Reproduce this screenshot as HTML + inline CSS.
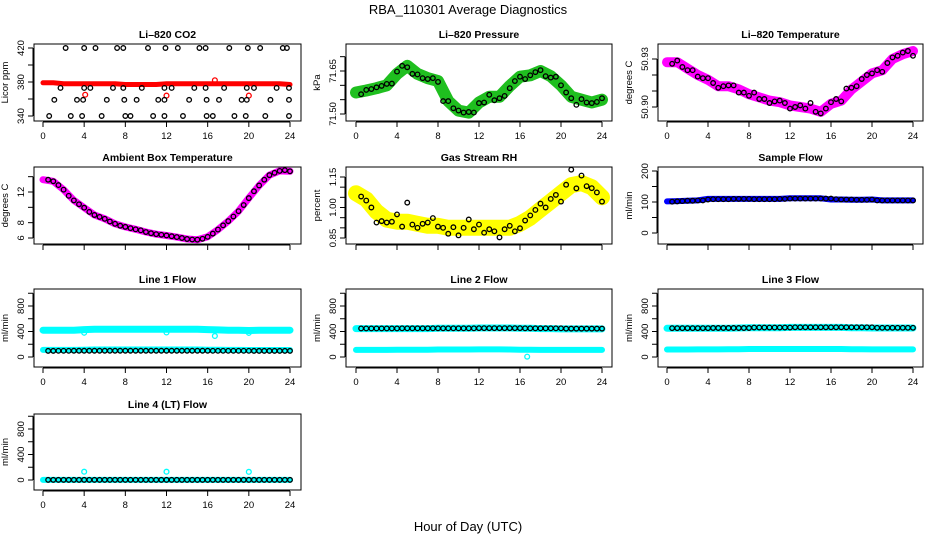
<!DOCTYPE html>
<html><head><meta charset="utf-8">
<style>
body{margin:0;background:#fff;}
svg{display:block;font-family:"Liberation Sans",sans-serif;}
</style></head>
<body>
<svg id="chart" width="936" height="540" viewBox="0 0 936 540" xmlns="http://www.w3.org/2000/svg">
<rect width="936" height="540" fill="#fff"/>
<text x="468" y="14" text-anchor="middle" font-size="13">RBA_110301  Average Diagnostics</text>
<text x="468" y="531" text-anchor="middle" font-size="13">Hour of Day (UTC)</text>
</svg>
<script>
const HALF=[0.5,1,1.5,2,2.5,3,3.5,4,4.5,5,5.5,6,6.5,7,7.5,8,8.5,9,9.5,10,10.5,11,11.5,12,12.5,13,13.5,14,14.5,15,15.5,16,16.5,17,17.5,18,18.5,19,19.5,20,20.5,21,21.5,22,22.5,23,23.5,24];
const HOURS=[0,1,2,3,4,5,6,7,8,9,10,11,12,13,14,15,16,17,18,19,20,21,22,23,24];
const X_TICKS=[0,4,8,12,16,20,24];

// CO2
const co2T=[2.2,4.0,5.1,7.2,7.8,10.2,11.9,13.1,15.2,15.8,18.1,19.9,21.1,23.3,23.7, 1.7,4.0,4.6,6.8,7.8,9.6,11.8,12.5,14.7,15.8,17.6,19.8,20.5,22.7,23.9, 1.1,3.3,3.9,6.2,7.9,9.1,11.2,11.8,14.2,15.9,17.1,19.3,19.8,22.1,23.9, 0.6,2.7,3.8,5.7,8.0,8.5,10.7,11.8,13.6,15.9,16.5,18.6,19.7,21.6,23.9];
const co2V=[420,420,420,420,420,420,420,420,420,420,420,420,420,420,420, 373,373,373,373,373,373,373,373,373,373,373,373,373,373,373, 359,359,359,359,359,359,359,359,359,359,359,359,359,359,359, 340,340,340,340,340,340,340,340,340,340,340,340,340,340,340];
const co2Band=[379,379,378,378,378,378,378,378,377,377,377,377,378,378,378,378,378,378,378,378,378,378,378,378,377];
const co2OutT=[4.1,12.0,16.7,20.0];
const co2OutV=[365,364,382,364];

// Pressure
const presBand=[71.575,71.582,71.590,71.600,71.640,71.668,71.640,71.625,71.615,71.545,71.512,71.505,71.540,71.560,71.560,71.598,71.630,71.635,71.650,71.632,71.600,71.560,71.550,71.540,71.550];
const presV=[71.569,71.584,71.587,71.593,71.598,71.605,71.606,71.648,71.668,71.663,71.640,71.638,71.625,71.622,71.625,71.612,71.545,71.545,71.520,71.512,71.505,71.507,71.505,71.538,71.540,71.567,71.548,71.555,71.563,71.590,71.615,71.630,71.622,71.635,71.646,71.653,71.632,71.627,71.630,71.600,71.575,71.555,71.532,71.552,71.540,71.538,71.542,71.555];

// Li-820 temperature
const tempBand=[50.928,50.928,50.924,50.920,50.917,50.913,50.913,50.911,50.908,50.906,50.904,50.903,50.901,50.900,50.899,50.897,50.902,50.904,50.911,50.916,50.921,50.923,50.930,50.933,50.935];
const tempV=[50.927,50.929,50.925,50.923,50.923,50.919,50.918,50.918,50.915,50.912,50.913,50.9135,50.9135,50.909,50.909,50.907,50.909,50.905,50.905,50.9025,50.9035,50.904,50.9025,50.899,50.900,50.901,50.899,50.9025,50.897,50.896,50.899,50.903,50.905,50.9035,50.9115,50.912,50.913,50.9175,50.920,50.921,50.923,50.922,50.9275,50.931,50.932,50.934,50.935,50.932];

// Ambient box temperature
const ambBand=[13.6,13.4,12.3,10.9,9.95,9.0,8.5,7.85,7.45,7.13,6.78,6.5,6.33,6.12,5.87,5.78,6.15,7.1,8.2,9.5,11.2,12.85,14.2,14.75,14.7];
const ambV=[13.6,13.4,12.9,12.3,11.5,10.9,10.4,9.95,9.4,9.0,8.75,8.5,8.15,7.85,7.6,7.45,7.28,7.13,7.0,6.78,6.62,6.5,6.42,6.33,6.23,6.12,6.0,5.87,5.8,5.78,5.9,6.15,6.57,7.1,7.65,8.2,8.8,9.5,10.3,11.2,12.1,12.85,13.6,14.2,14.5,14.75,14.85,14.7];

// Gas stream RH
const rhBand=[1.07,1.04,0.98,0.94,0.93,0.93,0.92,0.91,0.91,0.90,0.90,0.90,0.90,0.90,0.90,0.90,0.92,0.95,0.99,1.03,1.07,1.11,1.12,1.10,1.05];
const rhV=[1.054,1.034,1.0,0.926,0.933,0.926,0.93,0.966,0.906,1.024,0.916,0.90,0.92,0.926,0.948,0.906,0.90,0.871,0.903,0.863,0.90,0.941,0.893,0.916,0.876,0.893,0.883,0.853,0.893,0.91,0.883,0.898,0.936,0.961,0.988,1.019,1.0,1.042,1.062,1.029,1.112,1.186,1.094,1.157,1.105,1.095,1.074,1.029];

// Sample flow
const sfBand=[102,103,104,105,110,110,110,110,110,110,110,110,112,112,112,112,108,108,107,107,108,105,105,105,105];
const sfV=[101,102,103,104,104,105,105,108,109,109,109,109,110,110,110,110,109,109,109,109,109,110,110,111,111,111,111,111,111,111,111,111,109,108,108,108,107,107,107,108,105,105,105,105,105,105,105,105];

// Line flows
const l1Hi=[420,420,420,420,430,435,435,435,435,435,435,435,435,435,435,435,430,425,420,420,415,420,420,420,420];
const l1Lo=[112,112,112,112,115,118,118,118,118,118,118,118,118,118,118,118,115,115,112,112,110,110,110,110,110];
const l1V=[96,96,97,97,97,98,98,98,98,98,98,98,98,98,98,98,98,98,98,98,98,98,98,98,98,98,98,98,98,98,98,98,97,97,97,97,97,97,97,97,96,96,96,96,96,96,96,96];
const l1OutT=[4.0,12.0,16.7,20.0];
const l1OutV=[380,385,330,378];

const l2Hi=[445,445,445,445,445,445,445,445,450,450,450,450,455,455,455,455,450,450,445,445,440,440,440,440,440];
const l2Lo=[112,112,112,112,115,115,115,115,118,118,118,118,120,120,120,118,115,115,112,112,112,112,112,112,112];
const l2V=[448,448,448,448,448,448,448,448,450,450,450,450,450,450,450,450,450,450,450,450,450,450,450,452,452,452,452,452,452,452,452,452,450,450,450,450,450,450,450,450,445,445,445,445,445,445,445,445];
const l2OutT=[16.7];
const l2OutV=[5];

const l3Hi=[450,450,450,450,450,450,450,455,460,460,460,460,465,465,465,465,465,465,460,460,455,455,455,455,455];
const l3Lo=[118,118,118,120,120,120,122,122,125,125,125,125,125,125,125,125,125,125,122,122,120,120,120,120,120];
const l3V=[452,452,452,452,452,452,452,452,455,455,455,455,455,455,455,455,462,462,462,462,462,462,462,462,466,466,466,466,466,466,466,466,466,466,466,466,466,466,466,466,458,458,458,458,458,458,458,458];

const l4Band=[2,2,2,2,2,2,2,2,2,2,2,2,2,2,2,2,2,2,2,2,2,2,2,2,2];
const l4V=[2,2,2,2,2,2,2,2,2,2,2,2,2,2,2,2,2,2,2,2,2,2,2,2,2,2,2,2,2,2,2,2,2,2,2,2,2,2,2,2,2,2,2,2,2,2,2,2];
const l4OutT=[4.0,12.0,20.0];
const l4OutV=[130,130,128];

const NS="http://www.w3.org/2000/svg";
const svg=document.getElementById('chart');
const COLS=[{bx0:34,bx1:301,t0:43,t1:290},{bx0:346,bx1:612,t0:356,t1:602},{bx0:658,bx1:923,t0:667,t1:913}];
const ROWS=[{by0:44,by1:121},{by0:167,by1:244},{by0:289,by1:367},{by0:414,by1:490}];
function mk(tag,attrs,parent){const e=document.createElementNS(NS,tag);for(const k in attrs)e.setAttribute(k,attrs[k]);(parent||svg).appendChild(e);return e;}

function panel(cfg){
  const C=COLS[cfg.col],R=ROWS[cfg.row];
  const g=mk('g',{});
  
  
  const xs=t=>C.t0+(C.t1-C.t0)*t/24;
  const ys=v=>cfg.yp[0]+(cfg.yp[1]-cfg.yp[0])*(v-cfg.yv[0])/(cfg.yv[1]-cfg.yv[0]);
  const ti=mk('text',{x:(C.bx0+C.bx1)/2,y:R.by0-6,'text-anchor':'middle','font-size':'10.5','font-weight':'bold'},g);
  ti.textContent=cfg.title;
  
  
  const cid='clip-'+cfg.name;
  const cp=mk('clipPath',{id:cid},g);
  mk('rect',{x:C.bx0,y:R.by0,width:C.bx1-C.bx0,height:R.by1-R.by0},cp);
  const dg=mk('g',{'clip-path':'url(#'+cid+')'},g);
  (cfg.bands||[]).forEach((b,bi)=>{
    const pts=b.v.map((v,i)=>xs(b.t[i]).toFixed(1)+','+ys(v).toFixed(1)).join(' ');
    const pl=mk('polyline',{points:pts,fill:'none',stroke:b.color,'stroke-width':b.w,'stroke-linejoin':'round','stroke-linecap':'round'},dg);
    
    
  });
  (cfg.outs||[]).forEach(o=>{
    o.v.forEach((v,i)=>{
      const c=mk('circle',{cx:xs(o.t[i]),cy:ys(v),r:2.4,fill:'none',stroke:o.color,'stroke-width':1.3},dg);
      
      
    });
  });
  if(cfg.black){
    cfg.black.v.forEach((v,i)=>{
      const c=mk('circle',{cx:xs(cfg.black.t[i]),cy:ys(v),r:2.3,fill:'none',stroke:'#000','stroke-width':1.3},dg);
      
      
    });
  }
  const bx=mk('rect',{x:C.bx0,y:R.by0,width:C.bx1-C.bx0,height:R.by1-R.by0,fill:'none',stroke:'#000','stroke-width':1},g);
  
  
  const xa=mk('g',{},g);
  
  
  mk('line',{x1:xs(0),x2:xs(24),y1:R.by1+1,y2:R.by1+1,stroke:'#000'},xa);
  X_TICKS.forEach(t=>{
    mk('line',{x1:xs(t),x2:xs(t),y1:R.by1+1,y2:R.by1+6,stroke:'#000'},xa);
    if(cfg.row!==1){
      const tx=mk('text',{x:xs(t),y:R.by1+18,'text-anchor':'middle','font-size':'9.5'},xa);
      tx.textContent=t;
    }
  });
  const ya=mk('g',{},g);
  
  
  const yt=cfg.ticks;
  mk('line',{x1:C.bx0-1,x2:C.bx0-1,y1:ys(yt[0]),y2:ys(yt[yt.length-1]),stroke:'#000'},ya);
  yt.forEach(v=>{mk('line',{x1:C.bx0-6,x2:C.bx0-1,y1:ys(v),y2:ys(v),stroke:'#000'},ya);});
  cfg.labels.forEach(v=>{
    const y=ys(v),x=C.bx0-10;
    const tx=mk('text',{x:x,y:y,'text-anchor':'middle','font-size':'9.5',transform:'rotate(-90 '+x+' '+y+')'},ya);
    tx.textContent=cfg.fmt?cfg.fmt(v):v;
  });
  const lx=C.bx0-26,ly=(R.by0+R.by1)/2;
  const yl=mk('text',{x:lx,y:ly,'text-anchor':'middle','font-size':'9.5',transform:'rotate(-90 '+lx+' '+ly+')'},g);
  yl.textContent=cfg.ylab;
  
  
}

const FLOWT=[0,200,400,600,800,1000],FLOWL=[0,400,800];
panel({name:'co2',col:0,row:0,title:'Li\u2013820 CO2',ylab:'Licor ppm',yv:[340,420],yp:[116,48],ticks:[340,360,380,400,420],labels:[340,380,420],
  bands:[{t:HOURS,v:co2Band,color:'#f00',w:5}],outs:[{t:co2OutT,v:co2OutV,color:'#f00'}],black:{t:co2T,v:co2V}});
panel({name:'pressure',col:1,row:0,title:'Li\u2013820 Pressure',ylab:'kPa',yv:[71.50,71.65],yp:[114,71],ticks:[71.50,71.55,71.60,71.65,71.70],labels:[71.50,71.65],fmt:v=>v.toFixed(2),
  bands:[{t:HOURS,v:presBand,color:'#1fbf1f',w:12}],black:{t:HALF,v:presV}});
panel({name:'li820-temperature',col:2,row:0,title:'Li\u2013820 Temperature',ylab:'degrees C',yv:[50.90,50.93],yp:[107,59],ticks:[50.90,50.91,50.92,50.93],labels:[50.90,50.93],fmt:v=>v.toFixed(2),
  bands:[{t:HOURS,v:tempBand,color:'#f0f',w:10}],black:{t:HALF,v:tempV}});
panel({name:'ambient-temperature',col:0,row:1,title:'Ambient Box Temperature',ylab:'degrees C',yv:[6,12],yp:[238,192],ticks:[6,8,10,12,14],labels:[6,8,12],
  bands:[{t:HOURS,v:ambBand,color:'#f0f',w:7}],black:{t:HALF,v:ambV}});
panel({name:'rh',col:1,row:1,title:'Gas Stream RH',ylab:'percent',yv:[0.85,1.15],yp:[238,177],ticks:[0.85,0.90,0.95,1.00,1.05,1.10,1.15],labels:[0.85,1.00,1.15],fmt:v=>v.toFixed(2),
  bands:[{t:HOURS,v:rhBand,color:'#ff0',w:16}],black:{t:HALF,v:rhV}});
panel({name:'sample-flow',col:2,row:1,title:'Sample Flow',ylab:'ml/min',yv:[0,200],yp:[233,171],ticks:[0,50,100,150,200],labels:[0,100,200],
  bands:[{t:HOURS,v:sfBand,color:'#00f',w:6}],black:{t:HALF,v:sfV}});
panel({name:'line1-flow',col:0,row:2,title:'Line 1 Flow',ylab:'ml/min',yv:[0,800],yp:[357,306],ticks:FLOWT,labels:FLOWL,
  bands:[{t:HOURS,v:l1Hi,color:'#0ff',w:7},{t:HOURS,v:l1Lo,color:'#0ff',w:6}],outs:[{t:l1OutT,v:l1OutV,color:'#0ff'}],black:{t:HALF,v:l1V}});
panel({name:'line2-flow',col:1,row:2,title:'Line 2 Flow',ylab:'ml/min',yv:[0,800],yp:[357,306],ticks:FLOWT,labels:FLOWL,
  bands:[{t:HOURS,v:l2Hi,color:'#0ff',w:7},{t:HOURS,v:l2Lo,color:'#0ff',w:6}],outs:[{t:l2OutT,v:l2OutV,color:'#0ff'}],black:{t:HALF,v:l2V}});
panel({name:'line3-flow',col:2,row:2,title:'Line 3 Flow',ylab:'ml/min',yv:[0,800],yp:[357,306],ticks:FLOWT,labels:FLOWL,
  bands:[{t:HOURS,v:l3Hi,color:'#0ff',w:7},{t:HOURS,v:l3Lo,color:'#0ff',w:6}],black:{t:HALF,v:l3V}});
panel({name:'line4-flow',col:0,row:3,title:'Line 4 (LT) Flow',ylab:'ml/min',yv:[0,800],yp:[480,429],ticks:FLOWT,labels:FLOWL,
  bands:[{t:HOURS,v:l4Band,color:'#0ff',w:6}],outs:[{t:l4OutT,v:l4OutV,color:'#0ff'}],black:{t:HALF,v:l4V}});
</script>
</body></html>
